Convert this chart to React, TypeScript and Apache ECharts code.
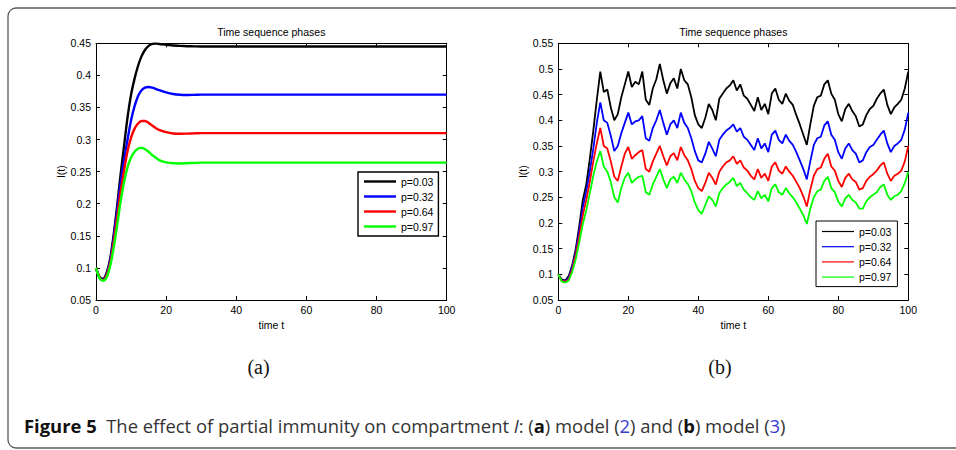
import React, { useEffect, useRef } from "react";
import * as echarts from "echarts";

// ---------- data ----------
const NAMES = ["p=0.03", "p=0.32", "p=0.64", "p=0.97"];
const COLORS = ["#000000", "#0000ff", "#ff0000", "#00ff00"];

// (a) deterministic model
const TIME_A = [
  0, 1, 2, 3, 4, 5, 6, 7, 8, 9, 10, 11, 12, 13, 14, 15, 16, 17, 18, 20, 22, 24, 26, 28, 30,
  35, 40, 50, 60, 70, 80, 90, 100,
];
const DET_P003 = [
  0.1, 0.086, 0.083, 0.092, 0.113, 0.15, 0.195, 0.245, 0.29, 0.335, 0.37, 0.395, 0.415, 0.43,
  0.44, 0.446, 0.449, 0.4495, 0.449, 0.4475, 0.4465, 0.446, 0.4455, 0.4452, 0.445, 0.445,
  0.445, 0.445, 0.445, 0.445, 0.445, 0.445, 0.445,
];
const DET_P032 = [
  0.1, 0.085, 0.082, 0.09, 0.11, 0.145, 0.188, 0.232, 0.268, 0.3, 0.33, 0.352, 0.368, 0.377,
  0.381, 0.382, 0.381, 0.379, 0.377, 0.3735, 0.371, 0.3698, 0.3695, 0.3697, 0.37, 0.37, 0.37,
  0.37, 0.37, 0.37, 0.37, 0.37, 0.37,
];
const DET_P064 = [
  0.1, 0.085, 0.081, 0.088, 0.106, 0.138, 0.178, 0.218, 0.252, 0.282, 0.303, 0.317, 0.325,
  0.329, 0.329, 0.326, 0.322, 0.318, 0.315, 0.3115, 0.3095, 0.309, 0.3093, 0.3097, 0.31, 0.31,
  0.31, 0.31, 0.31, 0.31, 0.31, 0.31, 0.31,
];
const DET_P097 = [
  0.1, 0.084, 0.08, 0.085, 0.102, 0.13, 0.165, 0.203, 0.234, 0.257, 0.272, 0.281, 0.286, 0.287,
  0.285, 0.281, 0.276, 0.272, 0.268, 0.2645, 0.263, 0.2628, 0.2632, 0.2637, 0.264, 0.264,
  0.264, 0.264, 0.264, 0.264, 0.264, 0.264, 0.264,
];

// (b) stochastic model, t = 0..100 step 1
const STO_P003 = [
  0.1, 0.09, 0.088, 0.097, 0.118, 0.15, 0.195, 0.245, 0.275, 0.325,
  0.38, 0.44, 0.495, 0.455, 0.46, 0.425, 0.4, 0.412, 0.445, 0.47,
  0.495, 0.465, 0.475, 0.47, 0.495, 0.44, 0.43, 0.462, 0.48, 0.51,
  0.478, 0.452, 0.472, 0.482, 0.462, 0.5, 0.478, 0.47, 0.445, 0.41,
  0.392, 0.385, 0.405, 0.432, 0.42, 0.4, 0.442, 0.452, 0.462, 0.468,
  0.478, 0.458, 0.47, 0.448, 0.442, 0.43, 0.418, 0.445, 0.42, 0.432,
  0.412, 0.452, 0.462, 0.44, 0.432, 0.452, 0.438, 0.43, 0.41, 0.392,
  0.372, 0.352, 0.392, 0.428, 0.445, 0.448, 0.47, 0.478, 0.452, 0.44,
  0.412, 0.398, 0.422, 0.432, 0.418, 0.408, 0.388, 0.392, 0.41, 0.422,
  0.428, 0.442, 0.452, 0.46, 0.43, 0.412, 0.425, 0.432, 0.44, 0.462,
  0.495,
];
const STO_P032 = [
  0.1, 0.088, 0.087, 0.093, 0.115, 0.145, 0.185, 0.23, 0.262, 0.3,
  0.345, 0.395, 0.435, 0.4, 0.395, 0.37, 0.34, 0.35, 0.375, 0.395,
  0.415, 0.392, 0.398, 0.4, 0.408, 0.365, 0.36, 0.385, 0.4, 0.42,
  0.395, 0.372, 0.392, 0.4, 0.385, 0.415, 0.395, 0.385, 0.365, 0.34,
  0.322, 0.318, 0.335, 0.358, 0.345, 0.33, 0.362, 0.372, 0.38, 0.385,
  0.392, 0.378, 0.385, 0.368, 0.362, 0.352, 0.342, 0.365, 0.345, 0.355,
  0.338, 0.372, 0.38, 0.362, 0.355, 0.372, 0.36, 0.352, 0.338, 0.322,
  0.305, 0.285, 0.32, 0.352, 0.365, 0.368, 0.39, 0.398, 0.372, 0.362,
  0.338, 0.325, 0.345, 0.355, 0.342, 0.335, 0.318, 0.322, 0.338, 0.348,
  0.352, 0.362, 0.372, 0.38, 0.355, 0.338, 0.35, 0.355, 0.362, 0.382,
  0.415,
];
const STO_P064 = [
  0.1, 0.087, 0.086, 0.09, 0.11, 0.138, 0.175, 0.215, 0.245, 0.28,
  0.32, 0.355, 0.385, 0.35, 0.345, 0.32, 0.29, 0.282, 0.31, 0.335,
  0.348, 0.325, 0.332, 0.338, 0.342, 0.305, 0.3, 0.32, 0.335, 0.35,
  0.33, 0.312, 0.33, 0.336, 0.322, 0.348, 0.332, 0.322, 0.305, 0.282,
  0.268, 0.262, 0.278, 0.298, 0.288, 0.275, 0.3, 0.31, 0.318, 0.322,
  0.33, 0.315, 0.322, 0.308, 0.302, 0.292, 0.285, 0.305, 0.288, 0.296,
  0.282, 0.31, 0.318, 0.302, 0.296, 0.31, 0.3, 0.292, 0.28, 0.268,
  0.252, 0.232, 0.265, 0.292, 0.305, 0.308, 0.325, 0.335, 0.31, 0.302,
  0.282, 0.27, 0.288, 0.296, 0.285, 0.28, 0.265, 0.268, 0.282, 0.29,
  0.295, 0.302, 0.312, 0.318, 0.296, 0.282, 0.292, 0.296, 0.302, 0.32,
  0.35,
];
const STO_P097 = [
  0.1, 0.086, 0.084, 0.088, 0.105, 0.13, 0.163, 0.198, 0.225, 0.258,
  0.292, 0.32, 0.34, 0.31, 0.3, 0.28, 0.25, 0.24, 0.268, 0.288,
  0.298, 0.278, 0.285, 0.29, 0.292, 0.26, 0.255, 0.275, 0.29, 0.305,
  0.285, 0.268, 0.285, 0.29, 0.278, 0.298, 0.285, 0.276, 0.262, 0.24,
  0.225, 0.218, 0.235, 0.252, 0.245, 0.232, 0.258, 0.268, 0.275, 0.28,
  0.288, 0.272, 0.278, 0.265, 0.258, 0.25, 0.245, 0.262, 0.248, 0.255,
  0.242, 0.268, 0.275, 0.26, 0.255, 0.268, 0.258, 0.25, 0.24, 0.228,
  0.215, 0.198, 0.228, 0.25, 0.262, 0.265, 0.282, 0.29, 0.268, 0.26,
  0.242, 0.232, 0.248, 0.255, 0.245, 0.24, 0.228, 0.228, 0.242, 0.25,
  0.255, 0.26, 0.27, 0.275, 0.255, 0.245, 0.252, 0.255, 0.262, 0.278,
  0.3,
];

const DET = [DET_P003, DET_P032, DET_P064, DET_P097];
const STO = [STO_P003, STO_P032, STO_P064, STO_P097];

const TITLE = "Time sequence phases";
const X_NAME = "time t";
const Y_NAME = "I(t)";

// ---------- chart ----------
const FONT = "'Liberation Sans', Arial, Helvetica, sans-serif";
const CAP_FONT = "'Open Sans', 'Noto Sans', sans-serif";
const CAP_SIZE = 18.4;

function xAxis(gridIndex: number, top: boolean) {
  return {
    type: "value",
    gridIndex,
    min: 0,
    max: 100,
    interval: 20,
    position: top ? "top" : "bottom",
    axisLine: { show: true, onZero: false, lineStyle: { color: "#000", width: 1 } },
    axisTick: { show: true, inside: true, length: 4, lineStyle: { color: "#000" } },
    axisLabel: { show: !top, color: "#000", fontSize: 10.5, fontFamily: FONT, margin: 4 },
    splitLine: { show: false },
    name: top ? "" : X_NAME,
    nameLocation: "middle",
    nameGap: 16,
    nameTextStyle: { color: "#000", fontSize: 10.5, fontFamily: FONT },
  };
}

function yAxis(gridIndex: number, right: boolean, max: number) {
  return {
    type: "value",
    gridIndex,
    min: 0.05,
    max,
    interval: 0.05,
    position: right ? "right" : "left",
    axisLine: { show: true, onZero: false, lineStyle: { color: "#000", width: 1 } },
    axisTick: { show: true, inside: true, length: 4, lineStyle: { color: "#000" } },
    axisLabel: {
      show: !right,
      color: "#000",
      fontSize: 10.5,
      fontFamily: FONT,
      margin: 5,
      formatter: (v: number) => String(parseFloat(v.toFixed(2))),
    },
    splitLine: { show: false },
    name: right ? "" : Y_NAME,
    nameLocation: "middle",
    nameGap: 30,
    nameTextStyle: { color: "#000", fontSize: 10.5, fontFamily: FONT },
  };
}

export default function App() {
  const ref = useRef<HTMLDivElement>(null);

  useEffect(() => {
    if (!ref.current) return;
    const chart = echarts.init(ref.current, null, { renderer: "svg" });

    const series: any[] = [];
    DET.forEach((vals, i) => {
      series.push({
        type: "line",
        name: NAMES[i],
        xAxisIndex: 0,
        yAxisIndex: 0,
        data: vals.map((v, k) => [TIME_A[k], v]),
        symbol: "none",
        smooth: 0.3,
        lineStyle: { color: COLORS[i], width: 2.4 },
        itemStyle: { color: COLORS[i] },
        z: 2 + i,
      });
    });
    STO.forEach((vals, i) => {
      series.push({
        type: "line",
        name: NAMES[i],
        xAxisIndex: 2,
        yAxisIndex: 2,
        data: vals.map((v, k) => [k, v]),
        symbol: "none",
        lineStyle: { color: COLORS[i], width: 1.8 },
        itemStyle: { color: COLORS[i] },
        z: 2 + i,
      });
    });

    const legendBase = {
      orient: "vertical",
      data: NAMES,
      icon: "rect",
      itemWidth: 32,
      itemGap: 4,
      borderColor: "#000",
      backgroundColor: "#fff",
      textStyle: { color: "#000", fontSize: 10.5, fontFamily: FONT, lineHeight: 10 },
      selectedMode: false,
    };

    const capRich = {
      b: { fontWeight: "bold", fill: "#111", fontSize: CAP_SIZE, fontFamily: CAP_FONT },
      i: { fontStyle: "italic", fill: "#333", fontSize: CAP_SIZE, fontFamily: CAP_FONT },
      l: { fill: "#3a3ad0", fontSize: CAP_SIZE, fontFamily: CAP_FONT },
    };

    const option: any = {
      animation: false,
      backgroundColor: "#fff",
      grid: [
        { left: 96, right: 956 - 446.7, top: 43.3, bottom: 150, containLabel: false },
        { left: 558.3, right: 956 - 908.3, top: 43.3, bottom: 150, containLabel: false },
      ],
      xAxis: [xAxis(0, false), xAxis(0, true), xAxis(1, false), xAxis(1, true)],
      yAxis: [yAxis(0, false, 0.45), yAxis(0, true, 0.45), yAxis(1, false, 0.55), yAxis(1, true, 0.55)],
      legend: [
        {
          ...legendBase,
          left: 358,
          top: 172,
          itemHeight: 2.4,
          padding: [4, 5, 4, 6],
          borderWidth: 1.4,
        },
        {
          ...legendBase,
          left: 816,
          top: 221,
          itemHeight: 1.2,
          padding: [5, 6, 4, 6],
          itemGap: 4.2,
          borderWidth: 1,
        },
      ],
      series,
      graphic: [
        {
          type: "rect",
          silent: true,
          shape: { x: 8, y: 8, width: 980, height: 440, r: 8 },
          style: { fill: "none", stroke: "#5a5a5a", lineWidth: 1.3 },
        },
        {
          type: "text",
          silent: true,
          x: 271.3,
          y: 32,
          style: {
            text: TITLE,
            fill: "#000",
            fontSize: 10.5,
            fontFamily: FONT,
            align: "center",
            verticalAlign: "middle",
          },
        },
        {
          type: "text",
          silent: true,
          x: 733.3,
          y: 32,
          style: {
            text: TITLE,
            fill: "#000",
            fontSize: 10.5,
            fontFamily: FONT,
            align: "center",
            verticalAlign: "middle",
          },
        },
        {
          type: "text",
          silent: true,
          x: 258.5,
          y: 367,
          style: {
            text: "(a)",
            fill: "#111",
            fontSize: 20,
            fontFamily: "'Liberation Serif', 'DejaVu Serif', serif",
            align: "center",
            verticalAlign: "middle",
          },
        },
        {
          type: "text",
          silent: true,
          x: 720,
          y: 367,
          style: {
            text: "(b)",
            fill: "#111",
            fontSize: 20,
            fontFamily: "'Liberation Serif', 'DejaVu Serif', serif",
            align: "center",
            verticalAlign: "middle",
          },
        },
        {
          type: "text",
          silent: true,
          x: 24,
          y: 425,
          style: {
            text:
              "{b|Figure 5}  The effect of partial immunity on compartment {i|I}: ({b|a}) model ({l|2}) and ({b|b}) model ({l|3})",
            fill: "#333",
            fontSize: CAP_SIZE,
            fontFamily: CAP_FONT,
            verticalAlign: "middle",
            rich: capRich,
          },
        },
      ],
    };

    chart.setOption(option);
    return () => chart.dispose();
  }, []);

  return (
    <div
      ref={ref}
      style={{ position: "absolute", left: 0, top: 0, width: 956, height: 450, background: "#fff" }}
    />
  );
}
